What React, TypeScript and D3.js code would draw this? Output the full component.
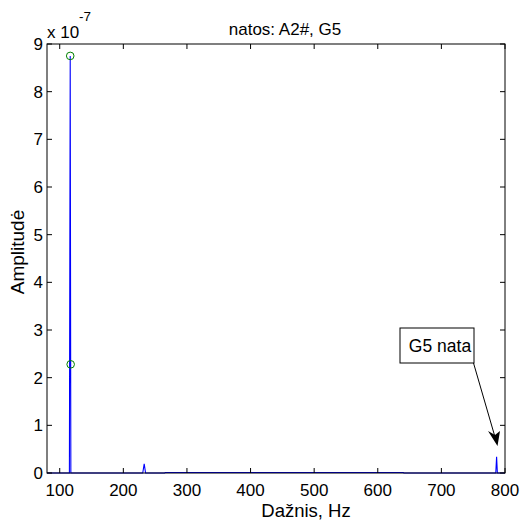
import React from "react";
import * as d3 from "d3";

const freqs = [80, 115.2, 116.5, 117.2, 117.5, 230.5, 232.8, 235, 265, 266, 640, 641, 785.5, 786.8, 788, 800];
const amps = [0, 0, 8.75, 2.28, 0, 0, 0.19, 0, 0, 0.012, 0.012, 0, 0, 0.34, 0, 0];
const peakFreqs = [116.5, 117.2];
const peakAmps = [8.75, 2.28];
const xTicks = [100, 200, 300, 400, 500, 600, 700, 800];
const yTicks = [0, 1, 2, 3, 4, 5, 6, 7, 8, 9];

const W = 528, H = 520;
const M = { l: 47, r: 23, t: 44, b: 47 };
const FONT = "Liberation Sans, Arial, sans-serif";

export default function App() {
  const x = d3.scaleLinear().domain([80, 800]).range([M.l, W - M.r]);
  const y = d3.scaleLinear().domain([0, 9]).range([H - M.b, M.t]);
  const line = d3.line<number>().x((_, i) => x(freqs[i])).y((d) => y(d));
  const x0 = M.l, x1 = W - M.r, y0 = H - M.b, y1 = M.t;
  const tl = 5;
  return (
    <svg width={W} height={H} style={{ position: "absolute", left: 0, top: 0, background: "#fff" }}
      fontFamily={FONT}>
      <rect x={0} y={0} width={W} height={H} fill="#fff" />
      <path d={line(amps) || ""} fill="none" stroke="#0000ff" strokeWidth={1.1} />
      {peakFreqs.map((f, i) => (
        <circle key={i} cx={x(f)} cy={y(peakAmps[i])} r={3.8} fill="none" stroke="#008000" strokeWidth={1} />
      ))}
      <rect x={x0} y={y1} width={x1 - x0} height={y0 - y1} fill="none" stroke="#000" strokeWidth={1} />
      {xTicks.map((t) => (
        <g key={t}>
          <line x1={x(t)} x2={x(t)} y1={y0} y2={y0 - tl} stroke="#000" />
          <line x1={x(t)} x2={x(t)} y1={y1} y2={y1 + tl} stroke="#000" />
          <text x={x(t)} y={y0 + 23} fontSize={17} textAnchor="middle">{t}</text>
        </g>
      ))}
      {yTicks.map((t) => (
        <g key={t}>
          <line x1={x0} x2={x0 + tl} y1={y(t)} y2={y(t)} stroke="#000" />
          <line x1={x1} x2={x1 - tl} y1={y(t)} y2={y(t)} stroke="#000" />
          <text x={x0 - 4} y={y(t) + 6} fontSize={17} textAnchor="end">{t}</text>
        </g>
      ))}
      <text x={47} y={38} fontSize={17}>x 10</text>
      <text x={79} y={21} fontSize={13.5}>-7</text>
      <text x={285} y={35} fontSize={17} textAnchor="middle">natos: A2#, G5</text>
      <text x={306} y={517} fontSize={18.5} textAnchor="middle">Dažnis, Hz</text>
      <text transform={`translate(24,252) rotate(-90)`} fontSize={19} textAnchor="middle">Amplitudė</text>
      <rect x={400} y={328} width={74} height={35} fill="#fff" stroke="#000" strokeWidth={1} />
      <text x={440} y={352} fontSize={17.5} textAnchor="middle">G5 nata</text>
      <line x1={473.5} y1={363} x2={495} y2={437} stroke="#000" strokeWidth={1} />
      <path d="M497.5,446 L488,431 L495,435 L500,431 Z" fill="#000" />
    </svg>
  );
}
